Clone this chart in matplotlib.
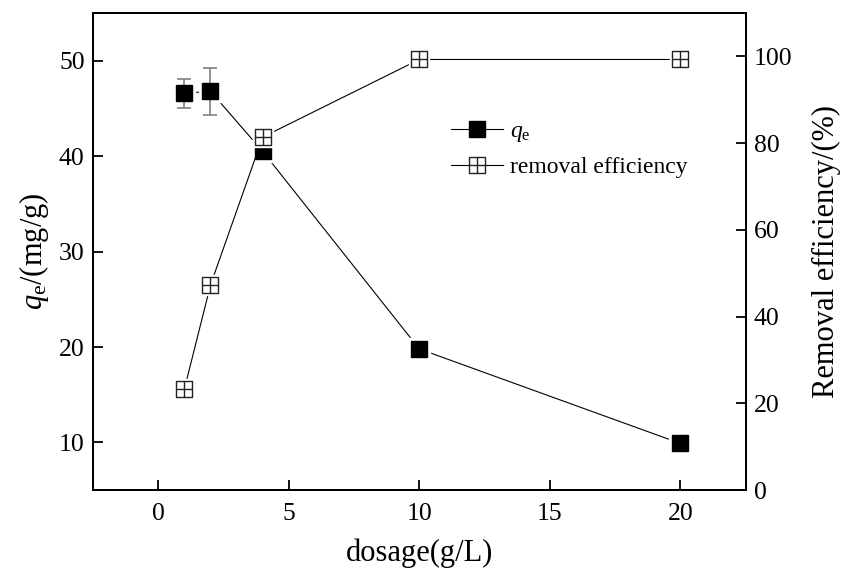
import matplotlib
matplotlib.use("Agg")
from matplotlib import pyplot as plt
from matplotlib.path import Path
from matplotlib.lines import Line2D

plt.rcParams['font.family'] = ['Liberation Serif', 'DejaVu Serif']
plt.rcParams['mathtext.fontset'] = 'custom'
plt.rcParams['mathtext.rm'] = 'Liberation Serif'
plt.rcParams['mathtext.it'] = 'Liberation Serif:italic'

# data
dosage = [1, 2, 4, 10, 20]
qe = [46.6, 46.8, 40.5, 19.8, 9.9]
qe_err = [1.5, 2.45, 0, 0, 0]
removal = [23.3, 47.3, 81.4, 99.3, 99.3]

x_ticks = [0, 5, 10, 15, 20]
qe_ticks = [10, 20, 30, 40, 50]
removal_ticks = [0, 20, 40, 60, 80, 100]

# square with a cross inside
box_plus = Path(
    [(-1, -1), (1, -1), (1, 1), (-1, 1), (-1, -1),
     (-1, 0), (1, 0), (0, -1), (0, 1)],
    [Path.MOVETO, Path.LINETO, Path.LINETO, Path.LINETO, Path.CLOSEPOLY,
     Path.MOVETO, Path.LINETO, Path.MOVETO, Path.LINETO])

fig = plt.figure(figsize=(8.41, 5.68), dpi=100)
ax = fig.add_axes([0.1106, 0.137, 0.776, 0.840])
ax2 = ax.twinx()

# qe series
ax.plot(dosage, qe, color='k', lw=0.8, zorder=1)
ax.plot(dosage, qe, ls='none', marker='s', ms=16, color='white', zorder=2)
ax.errorbar(dosage[:2], qe[:2], yerr=qe_err[:2], fmt='none', ecolor='#808080',
            elinewidth=1.2, capsize=5, capthick=1.2, zorder=3)
ax.plot(dosage, qe, ls='none', marker='s', ms=12, mfc='k', mec='k', zorder=4)

# removal efficiency series
ax2.plot(dosage, removal, color='k', lw=0.8, zorder=1)
ax2.plot(dosage, removal, ls='none', marker='s', ms=15, color='white', zorder=2)
ax2.plot(dosage, removal, ls='none', marker=box_plus, ms=11.5, mfc='white',
         mec='#222222', mew=1.0, zorder=3)

ax.set_xlim(-2.5, 22.5)
ax.set_ylim(5, 55)
ax2.set_ylim(0, 110)
ax.set_xticks(x_ticks)
ax.set_yticks(qe_ticks)
ax2.set_yticks(removal_ticks)

for a in (ax, ax2):
    for s in a.spines.values():
        s.set_linewidth(1.4)
ax.tick_params(direction='in', length=7, width=1.3, labelsize=18.5, pad=9)
ax.tick_params(axis='y', pad=6)
ax2.tick_params(direction='in', length=7, width=1.3, labelsize=18.5, pad=6)

ax.set_xlabel('dosage(g/L)', fontsize=22, labelpad=10)
ax.set_ylabel(r'$q_\mathrm{e}$/(mg/g)', fontsize=22, labelpad=6)
ax2.set_ylabel('Removal efficiency/(%)', fontsize=22, labelpad=14)

handles = [
    Line2D([], [], color='k', lw=0.8, marker='s', ms=12, mfc='k', mec='k'),
    Line2D([], [], color='k', lw=0.8, marker=box_plus, ms=11, mfc='white',
           mec='#222222', mew=1.0),
]
ax2.legend(handles, [r'$q_\mathrm{e}$', 'removal efficiency'], loc='upper left',
           bbox_to_anchor=(0.531, 0.80), frameon=False, fontsize=17,
           handlelength=2.2, handletextpad=0.3, labelspacing=0.55, borderpad=0)

fig.savefig('out.png', dpi=100)
